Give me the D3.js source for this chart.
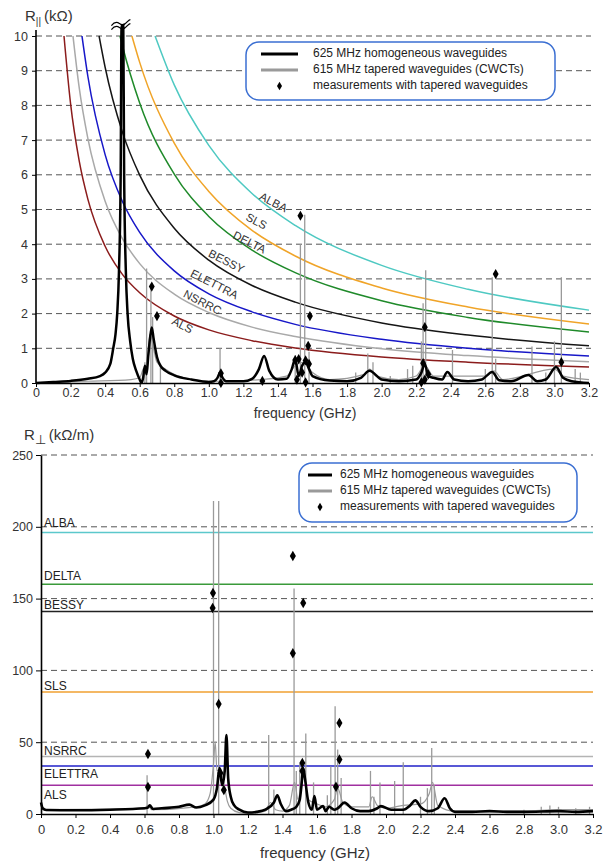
<!DOCTYPE html>
<html><head><meta charset="utf-8">
<script src="https://cdn.jsdelivr.net/npm/d3@7"></script>
<style>
html,body{margin:0;padding:0;background:#fff;}
svg{display:block;}
text{font-family:"Liberation Sans",Arial,sans-serif;}
</style></head>
<body>
<svg id="chart" width="608" height="864"></svg>
<script>
// ---------------- DATA ----------------
const machines = ["ALBA","SLS","DELTA","BESSY","ELETTRA","NSRRC","ALS"];
const xTicks = [0,0.2,0.4,0.6,0.8,1.0,1.2,1.4,1.6,1.8,2.0,2.2,2.4,2.6,2.8,3.0,3.2];
const yTicksTop = [0,1,2,3,4,5,6,7,8,9,10];
const yTicksBottom = [0,50,100,150,200,250];
const legendLabels = ["625 MHz homogeneous waveguides","615 MHz tapered waveguides (CWCTs)","measurements with tapered waveguides"];

// Longitudinal thresholds (f GHz, R kOhm)
const thrALBA    = [[0.689,10],[0.8,8.59],[1.0,6.85],[1.25,5.46],[1.5,4.54],[2.0,3.39],[2.5,2.70],[3.2,2.10]];
const thrSLS     = [[0.555,10],[0.6,9.24],[0.8,6.91],[1.0,5.52],[1.25,4.40],[1.5,3.66],[2.0,2.74],[2.5,2.19],[3.2,1.70]];
const thrDELTA   = [[0.486,10],[0.5,9.72],[0.6,8.07],[0.8,6.02],[1.0,4.80],[1.25,3.83],[1.5,3.18],[2.0,2.37],[2.5,1.89],[3.2,1.47]];
const thrBESSY   = [[0.365,10],[0.4,9.10],[0.5,7.23],[0.6,5.99],[0.8,4.46],[1.0,3.54],[1.25,2.81],[1.5,2.33],[2.0,1.73],[2.5,1.38],[3.2,1.07]];
const thrELETTRA = [[0.266,10],[0.3,8.84],[0.4,6.58],[0.5,5.23],[0.6,4.34],[0.8,3.23],[1.0,2.57],[1.25,2.05],[1.5,1.69],[2.0,1.26],[2.5,1.00],[3.2,0.78]];
const thrNSRRC   = [[0.214,10],[0.25,8.51],[0.3,7.05],[0.4,5.24],[0.5,4.16],[0.6,3.44],[0.8,2.56],[1.0,2.03],[1.25,1.61],[1.5,1.34],[2.0,0.99],[2.5,0.79],[3.2,0.61]];
const thrALS     = [[0.162,10],[0.2,8.05],[0.25,6.40],[0.3,5.30],[0.4,3.94],[0.5,3.13],[0.6,2.60],[0.8,1.93],[1.0,1.53],[1.25,1.22],[1.5,1.01],[2.0,0.75],[2.5,0.60],[3.2,0.46]];

// Transverse thresholds (kOhm/m), same order as machines
const transThr = [196, 85, 160, 141, 33.4, 40, 20];

// Longitudinal spectra
const longHom = [[0,0],[0.1,0.03],[0.2,0.06],[0.3,0.12],[0.37,0.2],[0.4,0.3],[0.43,0.55],[0.447,1.0],[0.46,1.4],[0.47,2.0],[0.48,3.2],[0.49,6],[0.495,10.3],[0.505,10.3],[0.51,6],[0.52,3.2],[0.53,2.0],[0.545,1.2],[0.56,0.7],[0.58,0.35],[0.6,0.1],[0.61,0.0],[0.62,0.15],[0.63,0.5],[0.64,0.25],[0.65,0.8],[0.66,1.3],[0.67,1.6],[0.68,1.3],[0.69,1.0],[0.7,0.75],[0.72,0.5],[0.75,0.35],[0.8,0.22],[0.9,0.1],[1.0,0.03],[1.03,0.05],[1.05,0.15],[1.065,0.3],[1.08,0.15],[1.1,0.05],[1.2,0.05],[1.25,0.12],[1.29,0.4],[1.32,0.78],[1.35,0.35],[1.4,0.1],[1.45,0.12],[1.48,0.4],[1.5,0.7],[1.52,0.2],[1.54,0.5],[1.56,0.6],[1.58,0.4],[1.6,0.2],[1.7,0.07],[1.8,0.05],[1.88,0.15],[1.93,0.35],[2.0,0.1],[2.1,0.05],[2.2,0.1],[2.23,0.3],[2.25,0.55],[2.27,0.2],[2.3,0.15],[2.35,0.1],[2.38,0.32],[2.42,0.1],[2.5,0.05],[2.58,0.1],[2.64,0.32],[2.68,0.08],[2.75,0.05],[2.85,0.23],[2.9,0.05],[2.95,0.1],[3.01,0.46],[3.05,0.15],[3.1,0.05],[3.2,0.0]];
const longTapBase = [[0,0],[0.3,0.05],[0.55,0.1],[0.6,0.15],[0.62,0.4],[0.64,0.5],[0.66,1.4],[0.68,1.0],[0.7,0.6],[0.75,0.4],[0.8,0.25],[0.9,0.1],[1.0,0.05],[1.1,0.05],[1.3,0.1],[1.45,0.2],[1.5,0.5],[1.55,0.6],[1.6,0.3],[1.7,0.1],[1.9,0.25],[1.93,0.4],[1.97,0.2],[2.1,0.1],[2.2,0.2],[2.25,0.5],[2.3,0.2],[2.6,0.2],[2.65,0.35],[2.7,0.1],[3.0,0.4],[3.05,0.2],[3.2,0.1]];
const longTapSpikes = [[0.63,0.6],[0.64,3.3],[0.665,2.75],[0.675,1.9],[0.72,0.5],[1.065,1.0],[1.5,0.8],[1.53,4.0],[1.555,4.85],[1.58,0.9],[1.85,0.3],[1.92,0.85],[1.95,0.6],[2.05,0.2],[2.15,0.4],[2.18,0.5],[2.23,1.2],[2.24,2.3],[2.255,3.25],[2.41,0.95],[2.6,0.4],[2.64,3.05],[2.66,0.7],[2.87,1.05],[2.95,0.3],[3.0,1.2],[3.04,3.05],[3.12,0.4],[3.15,0.3]];
const longMeas = [[0.67,2.78],[0.70,1.93],[1.07,0.28],[1.07,0.0],[1.31,0.06],[1.50,0.66],[1.53,4.82],[1.585,1.93],[1.575,1.07],[1.52,0.69],[1.56,0.65],[1.58,0.55],[1.54,0.3],[1.51,0.1],[1.56,0.02],[2.25,1.61],[2.24,0.57],[2.25,0.1],[2.27,0.25],[2.23,0.02],[2.66,3.14],[3.04,0.6]];

// Transverse spectra
const transHom = [[0,8],[0.01,4],[0.03,2.8],[0.2,2.6],[0.4,3],[0.6,4],[0.62,4.5],[0.63,6],[0.65,3.5],[0.7,4],[0.8,5],[0.86,6.5],[0.9,4.5],[0.95,6],[1.0,10],[1.02,18],[1.035,32],[1.05,20],[1.065,30],[1.075,55],[1.085,25],[1.1,12],[1.12,6],[1.15,3],[1.2,1],[1.25,1.5],[1.3,3],[1.35,8],[1.37,13],[1.39,7],[1.42,2],[1.45,3],[1.48,5],[1.5,10],[1.51,20],[1.52,32],[1.53,25],[1.55,8],[1.57,3],[1.585,12.5],[1.6,3],[1.635,5.5],[1.65,2],[1.67,5],[1.7,3],[1.72,4],[1.76,8],[1.8,4],[1.85,2],[1.9,2],[1.95,4],[1.97,5.5],[2.03,3],[2.1,3],[2.14,6],[2.17,9.5],[2.2,5],[2.25,2],[2.3,4],[2.34,11],[2.37,4],[2.4,1.5],[2.5,1.5],[2.6,2],[2.7,1.5],[2.8,1.5],[3.0,2],[3.1,1.5],[3.2,2]];
const transTapBase = [[0,3],[0.6,3.5],[0.62,6],[0.64,3],[0.9,5],[0.95,7],[0.98,14],[1.0,35],[1.01,50],[1.02,30],[1.04,32],[1.06,22],[1.08,9],[1.1,4],[1.15,1],[1.2,0.5],[1.3,2],[1.33,8],[1.36,3],[1.4,2],[1.44,6],[1.47,22],[1.49,10],[1.52,28],[1.55,10],[1.6,7],[1.65,5],[1.7,10],[1.72,18],[1.75,8],[1.8,5],[1.9,5],[1.92,12],[1.95,6],[2.0,4],[2.1,6],[2.2,7],[2.25,14],[2.27,22],[2.3,6],[2.4,2],[2.8,2],[3.0,3],[3.2,3]];
const transTapSpikes = [[0.615,27],[1.0,218],[1.03,218],[1.32,55],[1.35,17],[1.467,157],[1.48,30],[1.5,35],[1.535,56],[1.58,22],[1.66,13],[1.68,33],[1.705,75],[1.72,45],[1.74,25],[1.91,30],[1.93,12],[1.965,22],[2.05,23],[2.1,36],[2.2,12],[2.24,18],[2.265,46],[2.28,20],[2.8,3],[2.9,5],[2.95,6],[3.0,5],[3.1,4],[3.18,5]];
const transMeas = [[0.62,41.8],[0.62,18.8],[0.997,153.9],[0.995,143.5],[1.03,76.6],[1.04,28.5],[1.06,16.7],[1.46,179.6],[1.46,112],[1.52,147],[1.515,35.5],[1.515,30],[1.73,63.4],[1.73,38],[1.71,19]];

// ---------------- STYLE / LAYOUT ----------------
const colTop = {ALBA:"#4ec9c2",SLS:"#f0a428",DELTA:"#1f8a2a",BESSY:"#151515",ELETTRA:"#1717c8",NSRRC:"#a9a9a9",ALS:"#8b1c1c"};
const colBot = {ALBA:"#5cc8cc",SLS:"#f0a030",DELTA:"#3a9a3a",BESSY:"#222",ELETTRA:"#2020c8",NSRRC:"#b4b4b4",ALS:"#a030a0"};
const topLabelPos = {ALBA:[273,203],SLS:[256,222],DELTA:[249,243],BESSY:[226,262],ELETTRA:[214,285],NSRRC:[202,303],ALS:[182,326]};
const botLabelDy = {ALBA:-6,SLS:-2,DELTA:-4,BESSY:-3,ELETTRA:12,NSRRC:-2,ALS:14};
const thrTop = {ALBA:thrALBA,SLS:thrSLS,DELTA:thrDELTA,BESSY:thrBESSY,ELETTRA:thrELETTRA,NSRRC:thrNSRRC,ALS:thrALS};

const svg = d3.select("#chart");
const fmtX = d => d===0 ? "0" : d3.format(".1f")(d);

function panel(o){
  const x = d3.scaleLinear([0,3.2],[o.x0,o.x1]);
  const y = d3.scaleLinear(o.yDom,[o.y0,o.y1]);
  const g = svg.append("g");
  g.selectAll(".grid").data(o.grid).join("line")
    .attr("x1",o.x0).attr("x2",o.gridEnd).attr("y1",d=>y(d)).attr("y2",d=>y(d))
    .attr("stroke","#555").attr("stroke-width",1).attr("stroke-dasharray","6,4");
  return {x,y,g};
}

// ===== TOP PANEL =====
const T = panel({x0:36,x1:589,y0:383,y1:36,yDom:[0,10],grid:[1,2,3,4,5,6,7,8,9,10],gridEnd:591});
const lineT = d3.line().x(d=>T.x(d[0])).y(d=>T.y(d[1]));

machines.forEach(m=>{
  T.g.append("path").datum(thrTop[m]).attr("fill","none").attr("stroke",colTop[m]).attr("stroke-width",1.5)
   .attr("d",lineT.curve(d3.curveMonotoneX));
  const p = topLabelPos[m];
  T.g.append("text").attr("transform",`translate(${p[0]},${p[1]}) rotate(27)`).attr("text-anchor","middle")
   .attr("dominant-baseline","middle").attr("font-size",11.5).attr("fill","#333").text(m);
});
T.g.append("path").datum(longTapBase).attr("fill","none").attr("stroke","#999").attr("stroke-width",1.2)
  .attr("d",lineT.curve(d3.curveMonotoneX));
T.g.selectAll(".spk").data(longTapSpikes).join("line")
  .attr("x1",d=>T.x(d[0])).attr("x2",d=>T.x(d[0])).attr("y1",T.y(0)).attr("y2",d=>T.y(d[1]))
  .attr("stroke","#9a9a9a").attr("stroke-width",1.3);
T.g.append("path").datum(longHom).attr("fill","none").attr("stroke","#000").attr("stroke-width",2.5)
  .attr("stroke-linejoin","round").attr("d",lineT.curve(d3.curveMonotoneX));
const bx = T.x(0.5), by = T.y(10.3);
[-3,1].forEach(dy=>{
  T.g.append("path").attr("d",`M${bx-11},${by+dy+3} q4,-5 8,-2 q4,3 8,-2 q2,-2 3,-2`)
   .attr("fill","none").attr("stroke","#000").attr("stroke-width",1.2);
});
T.g.selectAll(".meas").data(longMeas).join("path")
  .attr("transform",d=>`translate(${T.x(d[0])},${T.y(d[1])})`)
  .attr("d",d3.symbol(d3.symbolDiamond,30)).attr("fill","#000");
const axT = svg.append("g").attr("transform",`translate(0,${T.y(0)})`)
  .call(d3.axisBottom(T.x).tickValues(xTicks).tickFormat(fmtX).tickSize(4).tickSizeOuter(0));
const ayT = svg.append("g").attr("transform",`translate(${T.x(0)},0)`)
  .call(d3.axisLeft(T.y).tickValues(yTicksTop).tickSize(4).tickSizeOuter(0));
ayT.select(".domain").attr("d",`M0,${T.y(0)}V${T.y(10)-6}`);
[axT,ayT].forEach(a=>{a.select(".domain").attr("stroke","#000").attr("stroke-width",1.6);
  a.selectAll("text").attr("font-family","Liberation Sans, Arial").attr("font-size",12.5).attr("fill","#333");});
axT.selectAll("text").attr("y",5);
ayT.selectAll("text").attr("dx","-1");

svg.append("text").attr("x",25).attr("y",21).attr("font-size",15).attr("fill","#333")
  .call(t=>{t.append("tspan").text("R");
    t.append("tspan").attr("font-size",10).attr("dy",4).text("||");
    t.append("tspan").attr("dy",-4).attr("dx",3).text("(kΩ)");});
svg.append("text").attr("x",305).attr("y",418).attr("text-anchor","middle").attr("font-size",14).attr("fill","#333").text("frequency (GHz)");

// ===== BOTTOM PANEL =====
const B = panel({x0:41,x1:593,y0:814,y1:455,yDom:[0,250],grid:[50,100,150,200,250],gridEnd:593});
const lineB = d3.line().x(d=>B.x(d[0])).y(d=>B.y(d[1]));
machines.forEach((m,i)=>{
  B.g.append("line").attr("x1",B.x(0)).attr("x2",B.x(3.2)).attr("y1",B.y(transThr[i])).attr("y2",B.y(transThr[i]))
   .attr("stroke",colBot[m]).attr("stroke-width",1.6);
  B.g.append("text").attr("x",B.x(0)+3).attr("y",B.y(transThr[i])+botLabelDy[m]).attr("font-size",12).attr("fill","#222").text(m);
});
B.g.append("path").datum(transTapBase).attr("fill","none").attr("stroke","#9a9a9a").attr("stroke-width",1.2)
  .attr("d",lineB.curve(d3.curveMonotoneX));
B.g.selectAll(".spk").data(transTapSpikes).join("line")
  .attr("x1",d=>B.x(d[0])).attr("x2",d=>B.x(d[0])).attr("y1",B.y(0)).attr("y2",d=>B.y(d[1]))
  .attr("stroke","#9a9a9a").attr("stroke-width",1.3);
B.g.append("path").datum(transHom).attr("fill","none").attr("stroke","#000").attr("stroke-width",2.6)
  .attr("stroke-linejoin","round").attr("d",lineB.curve(d3.curveMonotoneX));
B.g.selectAll(".meas").data(transMeas).join("path")
  .attr("transform",d=>`translate(${B.x(d[0])},${B.y(d[1])})`)
  .attr("d",d3.symbol(d3.symbolDiamond,32)).attr("fill","#000");
const axB = svg.append("g").attr("transform",`translate(0,${B.y(0)})`)
  .call(d3.axisBottom(B.x).tickValues(xTicks).tickFormat(fmtX).tickSize(4).tickSizeOuter(0));
const ayB = svg.append("g").attr("transform",`translate(${B.x(0)},0)`)
  .call(d3.axisLeft(B.y).tickValues(yTicksBottom).tickSize(5).tickSizeOuter(0));
[axB,ayB].forEach(a=>a.select(".domain").attr("stroke","#000").attr("stroke-width",1.6));
axB.selectAll("text").attr("font-family","Liberation Sans, Arial").attr("font-size",13).attr("fill","#333").attr("dy","1em");
ayB.selectAll("text").attr("font-family","Liberation Serif, Times New Roman, serif").attr("font-size",12.5).attr("fill","#333");
svg.append("text").attr("x",24).attr("y",440).attr("font-size",15).attr("fill","#333")
  .call(t=>{t.append("tspan").text("R");
    t.append("tspan").attr("font-size",13).attr("dy",4).text("⊥");
    t.append("tspan").attr("dy",-4).attr("dx",3).text("(kΩ/m)");});
svg.append("text").attr("x",315).attr("y",858).attr("text-anchor","middle").attr("font-size",15).attr("fill","#333").text("frequency (GHz)");

// ===== LEGENDS =====
function legend(bx,by,w,h,lx0,lx1,tx,rows){
  const g = svg.append("g");
  g.append("rect").attr("x",bx).attr("y",by).attr("width",w).attr("height",h).attr("rx",13)
   .attr("fill","#fff").attr("stroke","#3b6fd2").attr("stroke-width",1.5);
  g.append("line").attr("x1",lx0).attr("x2",lx1).attr("y1",rows[0]).attr("y2",rows[0]).attr("stroke","#000").attr("stroke-width",3);
  g.append("line").attr("x1",lx0).attr("x2",lx1).attr("y1",rows[1]).attr("y2",rows[1]).attr("stroke","#9a9a9a").attr("stroke-width",3);
  g.append("path").attr("transform",`translate(${(lx0+lx1)/2},${rows[2]})`).attr("d",d3.symbol(d3.symbolDiamond,22)).attr("fill","#000");
  legendLabels.forEach((s,i)=>g.append("text").attr("x",tx).attr("y",rows[i]).attr("dominant-baseline","middle")
    .attr("font-size",12).attr("fill","#222").text(s));
}
legend(246,42,309,58,261,298,313,[54,70,86]);
legend(299,463,278,59,308,332,340,[475,491,507]);
</script>
</body></html>
